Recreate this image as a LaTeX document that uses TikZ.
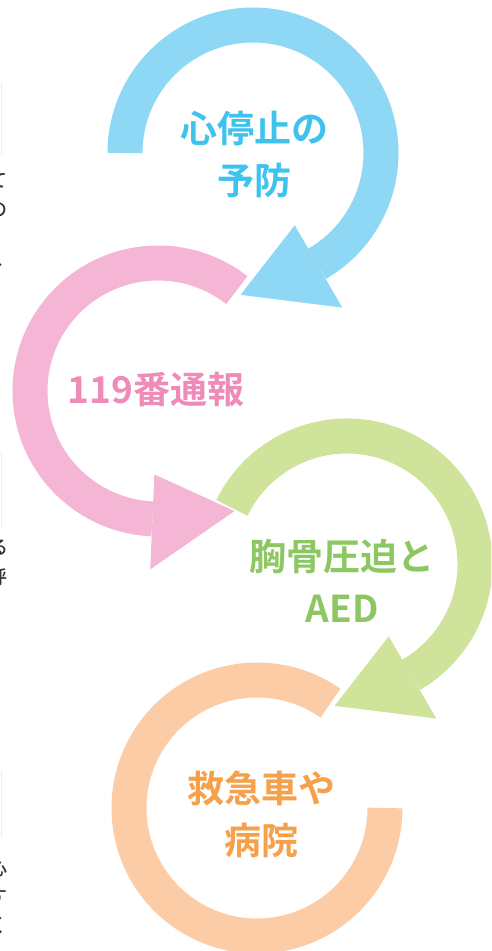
\documentclass[tikz,border=0pt]{standalone}
\usepackage{fontspec}
\newfontfamily\jpfont{Noto Sans CJK JP}[UprightFont={* Medium}, BoldFont={* Bold}]
\definecolor{bluering}{HTML}{8ED8F5}
\definecolor{bluetext}{HTML}{3FC3EE}
\definecolor{pinkring}{HTML}{F4B6D4}
\definecolor{pinktext}{HTML}{EF8BB8}
\definecolor{greenring}{HTML}{D0E39A}
\definecolor{greentext}{HTML}{8CC763}
\definecolor{orangering}{HTML}{FBCCA5}
\definecolor{orangetext}{HTML}{F5A04B}
\tikzset{
  pics/ring/.style args={#1/#2/#3}{% #1=start angle, #2=end angle, #3=colour
    code = {
      \coordinate (-start) at (#1:128);
      \coordinate (-end) at (#2:128);
      \draw [#3, line width=35] (-start) arc [start angle=#1, end angle=#2, radius=128];
}}}
\tikzset{
  pics/head/.style args={#1/#2/#3}{% #1=angle, #2=tip direction, #3=colour
    code = {
      \fill [#3] (#1:83.5) -- (#1:178.5) -- ([shift={(#2:83)}] #1:131) -- cycle;
}}}
\tikzset{
  steptext/.style={font=\jpfont\bfseries\fontsize{37}{52}\selectfont, align=center, inner sep=0},
  edgetext/.style={font=\jpfont\fontsize{19}{29}\selectfont, text=black!80, inner sep=0, anchor=east}
}

\begin{document}
\begin{tikzpicture}[x=1pt, y=1pt]
  \useasboundingbox (0,0) rectangle (491,-951);
  \clip (0,0) rectangle (491,-951);
  % edges of the page beside
  \draw [black!7] (1.5,-82) -- (1.5,-154);
  \draw [black!7] (1.5,-452) -- (1.5,-528);
  \draw [black!7] (1.5,-770) -- (1.5,-838);
  \node [edgetext] (te) at (8,-181) {て};
  \node [edgetext] (no) at (8,-210) {の};
  \node [edgetext, anchor=west] (comma) at (-5,-264) {、};
  \node [edgetext] (ru) at (9,-548) {る};
  \node [edgetext] (yobu) at (8,-577) {呼};
  \node [edgetext] (kokoro) at (8,-868) {心};
  \node [edgetext] (su) at (8,-897) {す};
  \node [edgetext] (ku) at (8,-925) {く};

  \pic (prevent) at (253,-153) {ring={180/-60/bluering}};
  \pic (call) at (158,-391) {ring={52/267.5/pinkring}};
  \pic (cpr) at (347,-564) {ring={154/-60/greenring}};
  \pic (hospital) at (257,-808) {ring={55/360/orangering}};
  \pic at (253,-153) {head={-60/-160/bluering}};
  \pic at (158,-391) {head={267.5/7.5/pinkring}};
  \pic at (347,-564) {head={-60/-160/greenring}};

  \node [steptext, text=bluetext] (preventtext) at (254,-154) {心停止の\\予防};
  \node [steptext, text=pinktext] (calltext) at (156,-390) {119番通報};
  \node [steptext, text=greentext] (cprtext) at (342,-581) {胸骨圧迫と\\AED};
  \node [steptext, text=orangetext] (hospitaltext) at (261,-814) {救急車や\\病院};
\end{tikzpicture}
\end{document}
